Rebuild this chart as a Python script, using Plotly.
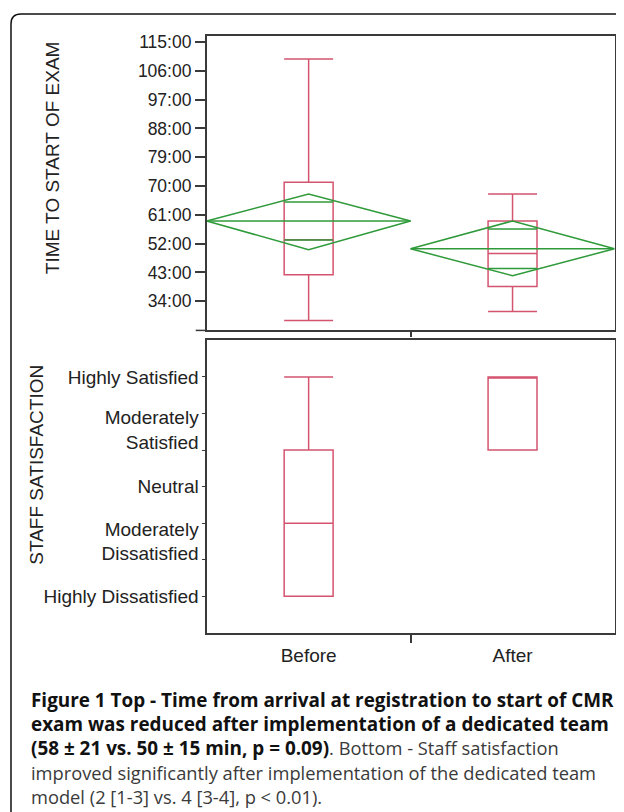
import math
import plotly.graph_objects as go

# ---------------- data ----------------
groups = ["Before", "After"]
group_x = [0, 1]

# Top: time to start of exam (minutes)
time_low = [28.0, 30.8]
time_q1 = [42.3, 38.6]
time_median = [53.2, 48.9]
time_q3 = [71.2, 59.1]
time_high = [109.7, 67.5]
time_mean = [59.1, 50.4]
time_ci_low = [50.1, 42.0]
time_ci_high = [67.5, 59.1]
time_tick_vals = [34, 43, 52, 61, 70, 79, 88, 97, 106, 115]

# Bottom: staff satisfaction (1..4 scale)
sat_low = [1, 3]
sat_q1 = [1, 3]
sat_median = [2, 4]
sat_q3 = [3, 4]
sat_high = [4, 4]
sat_tick_vals = [1, 1.5, 2, 2.5, 3, 3.5, 4]
sat_label_vals = [1, 1.75, 2.5, 3.28, 4]
sat_label_text = ["Highly Dissatisfied", "Moderately<br>Dissatisfied", "Neutral",
                  "Moderately<br>Satisfied", "Highly Satisfied"]

B = '<span style="font-weight:bold;font-size:18.9px;fill:#111111">'
caption_lines = [
    B + "Figure 1 Top - Time from arrival at registration to start of CMR</span>",
    B + "exam was reduced after implementation of a dedicated team</span>",
    B + "(58 ± 21 vs. 50 ± 15 min, p = 0.09)</span>. Bottom - Staff satisfaction",
    "improved significantly after implementation of the dedicated team",
    "model (2 [1-3] vs. 4 [3-4], p &lt; 0.01).",
]

# ---------------- style ----------------
OFF = 8    # page body margin
OFFY = 9   # vertical page offset observed
W, H = 624 - 2 * OFF, 812 - OFF
BOX_COLOR = "#d4546f"
GREEN = "#2f9a3a"
AXIS = "#3a3a3a"
FONT = "Liberation Sans, Arial, sans-serif"
BOX_W = 0.24
DIAMOND_HALF = 0.5
OVERLAP_HALF = 0.12


def px(x):
    return (x - OFF) / W


def py(y):
    return 1 - (y - OFFY) / H


def clamp(v):
    return max(0.0, min(1.0, v))


fig = go.Figure()

# Top box plot
fig.add_trace(go.Box(
    x=group_x, q1=time_q1, median=time_median, q3=time_q3,
    lowerfence=time_low, upperfence=time_high,
    width=BOX_W, whiskerwidth=1,
    line=dict(color=BOX_COLOR, width=1.5), fillcolor="rgba(0,0,0,0)",
    xaxis="x", yaxis="y", hoverinfo="skip", showlegend=False,
))

# Means diamonds
for gx, m, lo, hi in zip(group_x, time_mean, time_ci_low, time_ci_high):
    dx = [gx - DIAMOND_HALF, gx, gx + DIAMOND_HALF, gx, gx - DIAMOND_HALF, None,
          gx - DIAMOND_HALF, gx + DIAMOND_HALF]
    dy = [m, hi, m, lo, m, None, m, m]
    half = (hi - m) / math.sqrt(2)
    dx += [None, gx - OVERLAP_HALF, gx + OVERLAP_HALF, None, gx - OVERLAP_HALF, gx + OVERLAP_HALF]
    dy += [None, m + half, m + half, None, m - half, m - half]
    fig.add_trace(go.Scatter(x=dx, y=dy, mode="lines", line=dict(color=GREEN, width=1.5),
                             xaxis="x", yaxis="y", hoverinfo="skip", showlegend=False,
                             cliponaxis=False))

# Bottom box plot
fig.add_trace(go.Box(
    x=group_x, q1=sat_q1, median=sat_median, q3=sat_q3,
    lowerfence=sat_low, upperfence=sat_high,
    width=BOX_W, whiskerwidth=1,
    line=dict(color=BOX_COLOR, width=1.5), fillcolor="rgba(0,0,0,0)",
    xaxis="x2", yaxis="y2", hoverinfo="skip", showlegend=False,
))

xdom = [px(207), clamp(px(615.5))]
top_dom = [py(329), py(33)]
bot_dom = [py(633), py(339)]
xr = [-0.5, 1.5]
top_font = dict(family=FONT, size=17.5, color="#222")
bot_font = dict(family=FONT, size=19, color="#222")

fig.update_layout(
    width=W, height=H,
    margin=dict(l=0, r=0, t=0, b=0),
    paper_bgcolor="white", plot_bgcolor="white",
    showlegend=False,
    xaxis=dict(domain=xdom, range=xr, anchor="y", showline=True, mirror=True,
               linecolor=AXIS, linewidth=1.5, showgrid=False, zeroline=False,
               tickvals=[0.5], ticks="outside", ticklen=5, tickcolor=AXIS, tickwidth=1.5,
               showticklabels=False),
    yaxis=dict(domain=top_dom, range=[24.9, 116.9], anchor="x", showline=True, mirror=True,
               linecolor=AXIS, linewidth=1.5, showgrid=False, zeroline=False,
               tickvals=time_tick_vals, ticktext=[f"{v}:00" for v in time_tick_vals],
               ticks="outside", ticklen=10, tickcolor=AXIS, tickwidth=1.5,
               tickfont=top_font),
    xaxis2=dict(domain=xdom, range=xr, anchor="y2", showline=True, mirror=True,
                linecolor=AXIS, linewidth=1.5, showgrid=False, zeroline=False,
                tickvals=group_x, ticktext=groups, ticks="", tickfont=bot_font,
                ticklabelstandoff=5),
    xaxis3=dict(domain=xdom, range=xr, anchor="y2", overlaying="x2", showline=False,
                showgrid=False, zeroline=False, tickvals=[0.5], ticks="outside",
                ticklen=9, tickcolor=AXIS, tickwidth=1.5, showticklabels=False),
    yaxis2=dict(domain=bot_dom, range=[0.5, 4.5], anchor="x2", showline=True, mirror=True,
                linecolor=AXIS, linewidth=1.5, showgrid=False, zeroline=False,
                tickvals=sat_tick_vals, ticks="outside", ticklen=3, tickcolor=AXIS,
                tickwidth=1, showticklabels=False),
    yaxis3=dict(domain=bot_dom, range=[0.5, 4.5], anchor="x2", overlaying="y2", side="left",
                showline=False, showgrid=False, zeroline=False,
                tickvals=sat_label_vals, ticktext=sat_label_text, ticks="",
                tickfont=bot_font, ticklabelstandoff=7),
)

# Dummy traces so overlay axes render
fig.add_trace(go.Scatter(x=[None], y=[None], xaxis="x3", yaxis="y2", showlegend=False, hoverinfo="skip"))
fig.add_trace(go.Scatter(x=[None], y=[None], xaxis="x2", yaxis="y3", showlegend=False, hoverinfo="skip"))

# Axis titles
fig.add_annotation(text="TIME TO START OF EXAM", x=px(52), y=py(155), xref="paper", yref="paper",
                   xanchor="center", yanchor="middle",
                   textangle=-90, showarrow=False, font=dict(family=FONT, size=19, color="#222"))
fig.add_annotation(text="STAFF SATISFACTION", x=px(37), y=py(464), xref="paper", yref="paper",
                   xanchor="center", yanchor="middle",
                   textangle=-90, showarrow=False, font=dict(family=FONT, size=19, color="#222"))

# Caption
cap_y = [700, 725, 749, 773, 797]
for line, yy in zip(caption_lines, cap_y):
    fig.add_annotation(text=line, x=px(29), y=py(yy), xref="paper", yref="paper",
                       xanchor="left", yanchor="middle", showarrow=False, align="left",
                       font=dict(family="Open Sans, Noto Sans, sans-serif", size=18.3,
                                 color="#3a3a3a"))

# Decorations: extended bottom axis line of top panel and outer rounded frame
fig.add_shape(type="line", xref="paper", yref="paper", x0=px(196), x1=px(207),
              y0=py(329), y1=py(329), line=dict(color=AXIS, width=1.5))
r = 10
path = (f"M {px(11)},{py(830)} L {px(11)},{py(11 + r)} "
        f"Q {px(11)},{py(11)} {px(11 + r)},{py(11)} L {px(650)},{py(11)}")
fig.add_shape(type="path", xref="paper", yref="paper", path=path,
              line=dict(color="#111", width=1.5))

fig.write_html("out.html")
